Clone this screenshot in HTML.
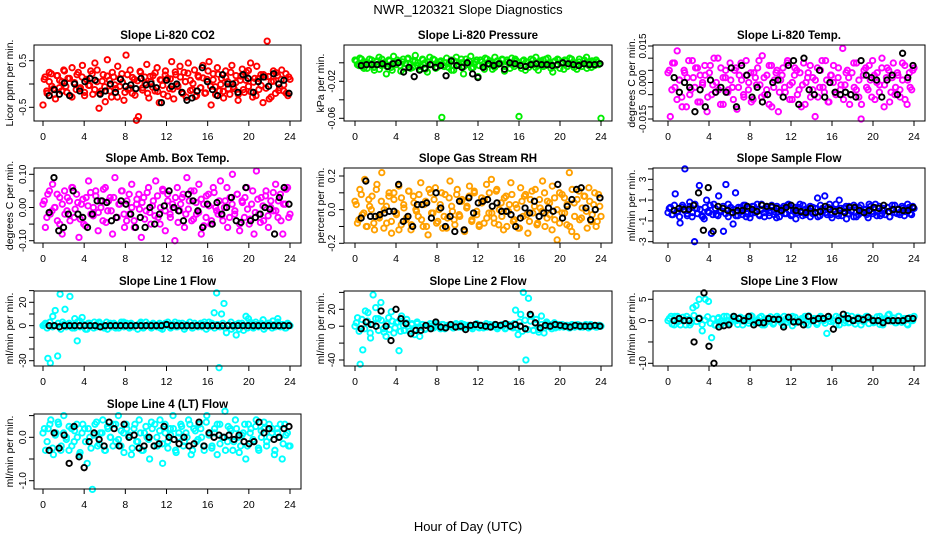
<!DOCTYPE html>
<html><head><meta charset="utf-8"><style>
html,body{margin:0;padding:0;background:#fff;}
svg{display:block;font-family:"Liberation Sans",sans-serif;}
</style></head><body>
<svg id="chart" width="936" height="540" viewBox="0 0 936 540" xmlns="http://www.w3.org/2000/svg">
<text x="468" y="14" text-anchor="middle" font-size="13">NWR_120321  Slope Diagnostics</text>
<text x="468" y="531" text-anchor="middle" font-size="13">Hour of Day (UTC)</text>
</svg>
<script>
// ---- data (values in panel units) ----
const xTicks = [0,4,8,12,16,20,24];
const co2Color = [-45,15,-20,5,22,-10,-32,18,8,-15,30,-5,12,-25,35,2,-12,25,-8,40,-18,10,-3,28,-22,45,5,-52,-15,20,-38,52,8,-28,15,-10,38,-5,22,-35,62,-12,30,-20,10,-78,-70,25,-8,15,42,-30,5,18,-15,35,-40,8,-22,28,12,-10,48,-32,20,-5,38,-18,25,-28,45,8,-12,30,-25,15,-8,40,-20,10,48,-45,22,-6,35,-15,12,-30,28,5,-22,40,-10,18,-35,8,32,-18,25,-5,45,-28,12,38,-12,20,-40,15,92,-32,5,28,-20,18,-8,30,-15,22,-25,10];
const co2Color2 = [10,-15,25,-5,-22,18,-8,5,28,-18,12,-28,3,20,-10,15,-25,8,-3,22,-12,30,-20,6,-6,17,-15,25,-2,-28,12,4,-18,20,-9,14,-24,7,27,-13,2,-20,16,-7,24,-16,9,-3,19,-26,11,-11,26,-4,15,-21,5,23,-14,1,-27,18,-8,13,-19,28,-5,9,-23,21,-1,-16,14,-10,25,-6,3,-22,17,-12,8,29,-17,4,-25,12,-3,20,-9,16,-28,6,24,-14,10,-2,-20,15];
const co2Black = [-25,-12,-22,2,-25,0,-15,5,12,8,-22,-15,0,-18,10,-5,-2,-10,12,-2,0,-8,-40,8,-5,0,-18,-35,-30,-15,35,5,-12,-25,20,0,0,-18,20,12,-18,5,15,-5,22,0,8,-20];
const presColor = [3,-2,5,-4,1,-6,4,-1,-8,2,6,-3,0,-12,3,-5,7,-2,1,-9,4,-1,5,-6,2,8,-3,-7,4,0,-10,6,-2,3,-5,1,-59,-4,5,-1,-8,2,6,-3,0,-12,4,-2,7,-5,1,-15,3,-4,5,-1,2,-7,6,-2,0,4,-9,3,-1,5,-4,2,-58,-6,3,1,-5,4,-2,6,-8,0,3,-3,5,-1,-10,2,4,-6,1,3,-4,5,-2,0,-7,4,-1,2,6,-3,-5,1,3,-2,-60];
const presColor2 = [2,-3,4,-6,0,-1,3,-5,1,-7,4,-2,-4,2,-8,0,3,-3,1,-6,4,-1,-5,2,0,-4,3,-7,1,-2,4,-6,-1,2,-3,0,-5,3,-8,1,-2,4,-4,0,2,-6,-1,3,-3,1,-7,4,-2,0,-5,2,-1,3,-4,1,-6,-2,4,0,-3,2,-8,1,-1,3,-5,0,2,-4,4,-2,-6,1,-3,3,0,-7,2,-1,4,-5,-2,1,-4,3,-6,0,2,-3,1,-1];
const presBlack = [-3,-2,-2,-2,-1,-4,-1,0,-10,-5,-15,-8,-6,-2,-5,-3,-14,2,-3,-5,0,-12,-16,-5,-1,-3,-1,-7,0,-1,-3,-4,-2,-1,-2,-2,-3,-2,0,-1,-2,-3,-1,-2,-2,-1];
const tempColor = [40,-140,80,-20,130,10,-60,50,-100,90,-30,20,60,-80,30,-10,70,-120,40,-50,100,0,-30,60,-90,20,-40,80,-20,50,-110,30,10,-60,90,-30,40,-70,20,60,-10,110,-50,30,-90,70,-20,40,-120,10,60,-40,90,-10,-70,30,50,-30,-100,80,0,40,-60,20,-140,60,-20,90,-40,10,-80,30,70,-50,20,-30,140,-10,50,-90,40,-20,80,-60,-150,30,60,-30,10,90,-70,40,-10,60,-100,20,50,-40,80,-20,30,-60,10,70,-90,40,-30,60];
const tempColor2 = [50,-30,80,-70,10,-100,40,20,-50,90,-20,60,-80,0,30,-60,70,-10,-40,100,-90,20,50,-30,10,-70,60,-20,80,-50,30,0,-80,40,-10,90,-60,20,-30,70,-100,10,50,-40,30,-20,80,-70,0,60,-50,40,-10,-90,20,70,-30,10,-60,50,-20,90,-80,30,0,-40,60,-10,-70,40,20,-50,80,-30,10,-90,50,-20,70,-60,30,0,-40,100,-10,60,-80,20,-50,40,-30,80,-70,10,-20,50];
const tempBlack = [20,-40,0,-20,-120,-30,-100,10,-40,-20,-40,60,-100,70,30,-60,-20,-80,-50,0,10,-60,70,90,-90,100,-30,-50,50,-60,0,-40,-50,-40,-50,-60,90,30,20,10,-60,10,30,-50,120,20,70];
const ambColor = [10,-60,40,-20,70,0,-40,30,-80,50,-10,20,60,-30,40,-90,10,-50,30,80,-20,0,50,-70,20,-40,60,-10,30,-80,90,-30,10,50,-60,20,-20,70,-40,10,40,-90,30,-10,60,-50,20,80,-30,0,50,-70,40,-20,10,-100,60,-10,30,-60,90,20,-40,50,-20,70,-80,10,-30,40,-50,60,0,-20,80,-40,20,-60,30,100,-10,40,-70,20,-30,60,-50,10,-80,110,-20,30,-40,50,-60,20,-10,70,-30,40,-80,10,60,-20];
const ambColor2 = [20,-30,50,-10,0,40,-50,10,-20,30,-40,60,-5,15,-35,25,-55,5,45,-25,35,-15,0,55,-45,20,-10,30,-30,10,50,-20,-40,40,0,-60,25,-5,15,-35,45,-15,5,-25,35,-50,55,-10,20,-30,0,30,-45,10,40,-20,-5,50,-35,15,-15,25,-55,35,5,-40,45,-10,20,-25,0,60,-30,10,-20,40,-50,15,30,-5,-35,50,-15,25,-45,5,35,-25,0,45,-10,20,-40,10,55,-30];
const ambBlack = [-15,90,-70,-60,-20,50,-20,-30,-60,-20,20,20,15,-40,-30,20,10,-20,-60,-30,-60,0,-50,-20,5,50,0,-10,-40,40,20,-10,-60,10,-50,15,-20,0,30,-40,-45,60,-40,-30,-20,0,-5,-80,30,60,10];
const rhColor = [5,-8,12,-3,18,-10,2,8,-12,15,-5,22,0,-8,10,-14,6,-2,14,-9,3,-6,11,-12,8,0,-4,16,-10,5,-15,10,-2,13,-7,3,-11,9,-5,17,-1,-9,12,-4,6,-13,2,14,-6,10,-3,-10,7,-8,15,-2,18,-5,11,-9,4,-12,8,-1,16,-7,3,-11,13,-4,9,-14,6,-2,12,-8,1,17,-10,5,-3,14,-6,-18,10,-2,7,-9,22,-13,4,-16,11,-5,8,-1,13,-7,3,-10,9,-4];
const rhColor2 = [3,-6,9,-2,-10,6,0,-8,12,-4,5,-11,2,8,-7,10,-3,-12,7,1,-5,11,-9,4,-1,9,-6,3,-10,12,-2,6,-8,0,10,-4,-11,7,2,-6,9,-3,5,-12,1,8,-7,11,-1,-9,4,6,-5,10,-2,-8,12,0,-4,7,-10,3,9,-6,1,-11,5,8,-3,-7,11,2,-9,6,-1,10,-5,4,-12,7,0,-8,9,-2,3,-10,12,-4,6,-6,1,8,-11,5,-3,10,-7,2];
const rhBlack = [-5,17,-4,-4,-3,-2,-1,-1,15,-7,-4,-10,3,3,4,-5,10,1,-10,-4,-13,5,-12,7,-2,4,5,6,2,4,-1,-1,-3,-10,-5,1,-2,5,-4,-2,1,-1,15,-5,2,6,12,13,1,-6,0,7];
const sampColor = [-2,3,-4,16,-1,-12,5,40,-3,8,-6,-30,2,24,-5,-8,10,-2,-22,6,-4,14,-1,-20,25,-6,3,-13,17,-5,2,-4,5,-3,-7,4,-2,6,-5,1,-6,3,-2,5,-4,-7,2,-1,4,-3,6,-5,0,-8,3,-2,5,-4,1,-6,3,-2,12,-5,2,14,-4,6,-7,1,-3,10,-5,2,-8,4,-1,-6,3,-4,5,-2,1,-7,4,-3,6,-1,-5,2,-4,3,-6,1,5,-3,-2,4,-5,0,3,-4,2];
const sampColor2 = [2,-4,5,-1,-6,3,0,-5,4,-2,6,-3,1,-6,3,-1,5,-4,2,-5,0,4,-3,6,-2,1,-5,3,-1,5,-6,2,-3,4,0,-4,6,-2,1,-5,3,-1,4,-6,2,-3,5,0,-4,3,-2,6,-5,1,-1,4,-3,2,-6,5,0,-2,3,-4,1,6,-5,2,-1,4,-3,0,5,-6,3,-2,1,-4,6,-1,2,-5,4,-3,0,3,-6,5,-2,1,-4,2,-1,6,-3,4];
const sampBlack = [0,2,1,1,5,17,-19,22,-20,4,2,0,-2,0,0,4,1,-1,5,4,4,2,0,3,5,0,-1,-2,2,-2,-1,4,1,-1,0,-2,3,3,0,-2,0,3,2,5,-1,1,1,0,0,3];
const l1Color = [0,2,-28,-32,8,13,-26,27,3,14,1,25,-2,6,-13,4,7,1,-3,2,0,3,-1,2,0,-2,3,1,-1,2,0,-2,1,3,0,-1,2,-1,0,1,3,-2,0,1,-1,2,0,1,-2,0,2,1,-1,0,3,-1,0,2,-1,1,0,-2,2,0,1,-1,3,0,-1,2,11,28,-36,10,19,-6,1,-3,-1,-8,2,0,-4,8,6,1,-2,3,0,1,5,-1,2,0,4,-1,6,0,1,-2,2,0];
const l1Color2 = [1,-2,3,-1,0,2,-3,1,-1,2,0,-2,3,-1,1,-3,2,0,-2,1,3,-1,0,-3,2,1,-2,0,3,-1,2,-2,1,0,-3,2,-1,3,0,-2,1,-1,2,-3,0,3,-2,1,-1,2,0,-3,1,3,-2,0,-1,2,1,-3,3,0,-2,1,-1,2,-2,0,3,-1,1,-3,2,0,-2,3,-1,1,-1,2,-3,0,2,-2,1,3,-1,0,-2,1];
const l1Black = [0,0,-1,0,0,0,0,0,0,0,-1,0,0,0,0,0,0,0,0,0,0,0,0,1,0,0,0,0,0,0,0,0,0,0,0,0,0,0,0,0,0,0,0,0,0,0,0,0];
const l2Color = [0,10,-45,-28,18,16,-14,37,22,9,28,-3,-12,10,17,-8,4,-29,12,-5,8,-6,3,-10,5,-12,2,-4,1,3,-2,1,0,-3,2,-1,1,0,-2,3,0,-1,2,0,1,-1,0,3,-2,1,0,-1,2,0,1,-1,0,2,-3,1,0,-2,19,-10,14,40,-40,33,12,-5,8,-7,12,-8,5,2,-3,4,0,-1,2,0,1,-2,1,0,2,-1,0,1,0,2,0,-1,1,0];
const l2Color2 = [4,-6,8,-3,6,-8,2,9,-5,7,-7,3,-4,6,-2,5,-6,1,4,-3,2,-4,3,-1,2,-3,1,0,-2,3,-1,2,-3,1,0,-2,2,-1,3,-2,1,0,-3,2,-1,1,-2,3,0,-1,2,-3,1,0,-2,2,-1,3,-2,5,-6,7,-4,6,-5,3,-4,2,-2,3,-1,1,-2,2,0,-1,1,-2,2,-1,0,1,-1,2,-2,1,0,-1,1];
const l2Black = [-3,5,2,0,18,0,-17,20,9,3,-9,-5,-5,1,-3,5,-1,-2,2,-1,0,-4,1,2,1,0,-1,2,1,3,0,2,0,-3,14,4,-2,1,0,2,1,0,-1,1,0,0,0,1,0];
const l3Color = [0,1,-1,1,-1,0,1,-1,3,3.5,5,-2.4,5,4.5,-4,-1,0.5,-1,1,0,-0.5,1,0,0.5,-1,0.5,0,1,-0.5,0,1,-1,0.5,0,-0.5,1,0,-1,0.5,0,1,-0.5,0,0.5,1,-1,0,0.5,-0.5,1,0,-3,0.5,0,1,-1,0.5,0,-0.5,1,0,0.5,-1,0,1,0.5,-0.5,0,1,-1,0.5,1.5,0,-0.5,1,0,0.5,-1,0,1];
const l3Color2 = [0.5,-0.8,1,-0.3,0,0.8,-1,0.3,-0.5,1.2,-0.2,0.6,-0.9,0.1,0.9,-0.6,0.4,-1.1,0.7,0,-0.4,1,-0.7,0.2,0.5,-0.9,0.8,-0.1,0.3,-0.6,1.1,-0.3,0,0.7,-1,0.4,-0.2,0.9,-0.8,0.1,0.6,-0.5,1,-0.4,0.2,-1.2,0.8,0,-0.3,0.5,-0.7,1.1,-0.1,0.4,-0.9,0.6,0.2,-0.6,0.9,-0.2,0,-1,0.7,0.3,-0.5,1.2,-0.4,0.1,-0.8,0.8,0.5,-0.2,1,-0.7,0.2,-0.3,0.9,-0.9,0.4,0,1.3,-0.1,0.6,-0.5,1,-0.4,0.3,-0.8,0.7,0];
const l3Black = [0,0.5,0,0,-5,0.5,6.5,-6,-10,-1.5,-1.2,-1,1,0.5,0,1,-1,-0.5,-0.5,0.5,0.3,0.3,-1.5,0.8,-0.3,-0.3,-1,1,0,0.5,0.5,1,-2,0,1.5,0.5,0,0.5,0.2,0.8,0,0,-0.5,0,0,0,0,0.5,0.5];
const l4Color = [0.1,-0.3,0.2,0.4,-0.4,0.1,0.3,-0.2,0.5,0,-0.3,0.2,-0.1,0.3,-0.4,0.1,0.2,-0.6,0,-1.2,0.3,-0.2,0.1,0.4,-0.3,0.2,0,0.3,-0.1,0.5,-0.2,0.1,0.3,0,-0.4,0.2,-0.1,0.4,-0.3,0.1,0,-0.5,0.2,0.3,-0.2,0.4,-0.6,0.1,-0.1,0.2,0.5,-0.3,0,0.3,-0.2,0.1,0.4,-0.4,0.2,-0.1,0.3,0,-0.3,0.5,0.1,-0.2,0.2,-0.4,0.3,0,0.6,-0.1,0.2,-0.3,0.4,0,-0.2,0.1,-0.5,0.3,0.2,-0.1,0.4,-0.3,0,0.2,-0.2,0.3,0.1,-0.4,0.2,0,-0.5,0.3,0.1,-0.2];
const l4Color2 = [0.2,-0.1,0.3,-0.25,0.05,0.35,-0.3,0.1,-0.05,0.25,-0.2,0.15,0,-0.35,0.3,-0.1,0.2,-0.25,0.05,0.35,-0.15,0.1,-0.3,0.25,0,-0.2,0.3,-0.05,0.15,-0.35,0.2,0.05,-0.25,0.3,-0.1,0.1,-0.3,0.25,-0.05,0.35,-0.2,0,0.15,-0.15,0.3,-0.25,0.05,0.2,-0.35,0.1,0.25,-0.1,0,0.3,-0.3,0.15,-0.05,0.2,-0.2,0.35,0.05,-0.25,0.1,0.3,-0.15,0,-0.3,0.25,0.15,-0.1,0.2,-0.35,0.05,0.3,-0.2,0.1,-0.05,0.25,-0.25,0.15,0.35,-0.1,0,0.2,-0.3,0.1,0.3,-0.15,0.05,-0.2];
const l4Black = [-0.3,0.1,-0.25,0.05,-0.6,0.25,-0.45,-0.7,-0.1,0.1,-0.05,-0.2,0.35,0.2,-0.2,0.3,0,0.05,-0.25,-0.2,0,-0.2,-0.15,0.25,0,-0.05,-0.15,0,-0.2,-0.15,0.35,-0.2,0.1,0,0.05,0,0.05,-0.05,0.05,-0.1,-0.15,-0.1,0.35,0.1,0.2,-0.05,0,0.2,0.25];

// ---- layout ----
const cols=[{b0:34,b1:301,p0:43,p24:290,ylab:9,tl:22},{b0:344,b1:612,p0:355,p24:601,ylab:320,tl:331},{b0:653,b1:925,p0:668,p24:914,ylab:631,tl:642}];
const rows=[{t:45,b:121},{t:168,b:243},{t:291,b:366},{t:414,b:489}];
const panels=[
 {name:'co2',title:'Slope Li-820 CO2',yl:'Licor ppm per min.',r:0,c:0,col:'#ff0000',unit:0.01,dc:co2Color,dc2:co2Color2,db:co2Black,v1:0.5,p1:60.7,v2:-0.5,p2:107.3,ticks:[-0.5,0,0.5],labs:[[-0.5,'-0.5'],[0.5,'0.5']],bx:[0.6,23.9]},
 {name:'pressure',title:'Slope Li-820 Pressure',yl:'kPa per min.',r:0,c:1,col:'#00ee00',unit:0.001,dc:presColor,dc2:presColor2,db:presBlack,v1:-0.02,p1:81.3,v2:-0.06,p2:118.3,ticks:[0,-0.02,-0.04,-0.06],labs:[[-0.02,'-0.02'],[-0.06,'-0.06']],bx:[0.6,23.9]},
 {name:'temp',title:'Slope Li-820 Temp.',yl:'degrees C per min.',r:0,c:2,col:'#ff00ff',unit:0.0001,dc:tempColor,dc2:tempColor2,db:tempBlack,v1:0.015,p1:46,v2:-0.015,p2:119,ticks:[0.015,0.01,0.005,0,-0.005,-0.01,-0.015],labs:[[0.015,'0.015'],[0,'0.000'],[-0.015,'-0.015']],bx:[0.6,23.9]},
 {name:'amb-box-temp',title:'Slope Amb. Box Temp.',yl:'degrees C per min.',r:1,c:0,col:'#ff00ff',unit:0.001,dc:ambColor,dc2:ambColor2,db:ambBlack,v1:0.1,p1:174.3,v2:-0.1,p2:240.7,ticks:[0.1,0.05,0,-0.05,-0.1],labs:[[0.1,'0.10'],[0,'0.00'],[-0.1,'-0.10']],bx:[0.6,23.9]},
 {name:'gas-stream-rh',title:'Slope Gas Stream RH',yl:'percent per min.',r:1,c:1,col:'#ffa000',unit:0.01,dc:rhColor,dc2:rhColor2,db:rhBlack,v1:0.2,p1:176,v2:-0.2,p2:243.3,ticks:[0.2,0.1,0,-0.1,-0.2],labs:[[0.2,'0.2'],[0,'0.0'],[-0.2,'-0.2']],bx:[0.6,23.9]},
 {name:'sample-flow',title:'Slope Sample Flow',yl:'ml/min per min.',r:1,c:2,col:'#0000ff',unit:0.1,dc:sampColor,dc2:sampColor2,db:sampBlack,v1:3,p1:179.3,v2:-3,p2:241.7,ticks:[4,3,2,1,0,-1,-2,-3],labs:[[3,'3'],[1,'1'],[-1,'-1'],[-3,'-3']],bx:[0.6,23.9]},
 {name:'line1-flow',title:'Slope Line 1 Flow',yl:'ml/min per min.',r:2,c:0,col:'#00ffff',unit:1,dc:l1Color,dc2:l1Color2,db:l1Black,v1:20,p1:302.3,v2:-30,p2:360.7,ticks:[30,20,10,0,-10,-20,-30],labs:[[20,'20'],[0,'0'],[-30,'-30']],bx:[0.6,23.9]},
 {name:'line2-flow',title:'Slope Line 2 Flow',yl:'ml/min per min.',r:2,c:1,col:'#00ffff',unit:1,dc:l2Color,dc2:l2Color2,db:l2Black,v1:20,p1:309.3,v2:-40,p2:360,ticks:[40,20,0,-20,-40],labs:[[20,'20'],[0,'0'],[-40,'-40']],bx:[0.6,23.9]},
 {name:'line3-flow',title:'Slope Line 3 Flow',yl:'ml/min per min.',r:2,c:2,col:'#00ffff',unit:1,dc:l3Color,dc2:l3Color2,db:l3Black,v1:5,p1:299.3,v2:-10,p2:363.3,ticks:[5,0,-5,-10],labs:[[5,'5'],[0,'0'],[-10,'-10']],bx:[0.6,23.9]},
 {name:'line4-flow',title:'Slope Line 4 (LT) Flow',yl:'ml/min per min.',r:3,c:0,col:'#00ffff',unit:1,dc:l4Color,dc2:l4Color2,db:l4Black,v1:0,p1:437.3,v2:-1,p2:480.7,ticks:[0.5,0,-0.5,-1],labs:[[0,'0.0'],[-1,'-1.0']],bx:[0.6,23.9]}
];
const NS='http://www.w3.org/2000/svg';
const svg=document.getElementById('chart');
function mk(tag,attrs,parent){const e=document.createElementNS(NS,tag);for(const k in attrs)e.setAttribute(k,attrs[k]);(parent||svg).appendChild(e);return e;}
panels.forEach(p=>{
 const C=cols[p.c],R=rows[p.r];
 const g=mk('g',{});
 
 
 const xs=h=>C.p0+(C.p24-C.p0)*h/24;
 const ys=v=>p.p1+(v-p.v1)*(p.p2-p.p1)/(p.v2-p.v1);
 const t=mk('text',{x:(C.b0+C.b1)/2,y:R.t-6,'text-anchor':'middle','font-size':'11.5','font-weight':'bold'},g);
 t.textContent=p.title;
 
 
 const pg=mk('g',{fill:'none','stroke-width':'1.9'},g);
 
 
 const n=p.dc.length;
 p.dc.forEach((v,i)=>{
  const c=mk('circle',{cx:xs(i*24/(n-1)),cy:ys(v*p.unit),r:2.7,stroke:p.col},pg);
  
  
 });
 const n2=p.dc2.length;
 p.dc2.forEach((v,i)=>{
  const c=mk('circle',{cx:xs((i+0.5)*24/n2),cy:ys(v*p.unit),r:2.7,stroke:p.col},pg);
  
  
 });
 const m=p.db.length;
 p.db.forEach((v,i)=>{
  const c=mk('circle',{cx:xs(p.bx[0]+i*(p.bx[1]-p.bx[0])/(m-1)),cy:ys(v*p.unit),r:2.7,stroke:'#000'},pg);
  
  
 });
 const box=mk('rect',{x:C.b0,y:R.t,width:C.b1-C.b0,height:R.b-R.t,fill:'none',stroke:'#000','stroke-width':'1'},g);
 
 
 const xa=mk('g',{},g);
 
 
 mk('line',{x1:xs(0),x2:xs(24),y1:R.b,y2:R.b,stroke:'#000'},xa);
 xTicks.forEach(h=>{
  mk('line',{x1:xs(h),x2:xs(h),y1:R.b,y2:R.b+5,stroke:'#000'},xa);
  const tx=mk('text',{x:xs(h),y:R.b+19,'text-anchor':'middle','font-size':'10.5'},xa);
  tx.textContent=h;
  
  
 });
 const ya=mk('g',{},g);
 
 
 const tv=p.ticks.map(ys);
 mk('line',{x1:C.b0,x2:C.b0,y1:Math.min(...tv),y2:Math.max(...tv),stroke:'#000'},ya);
 tv.forEach(y=>mk('line',{x1:C.b0-5,x2:C.b0,y1:y,y2:y,stroke:'#000'},ya));
 p.labs.forEach(([v,s])=>{
  const y=ys(v);
  const tx=mk('text',{x:C.tl+4,y:y,'text-anchor':'middle','font-size':'10',transform:`rotate(-90 ${C.tl+4} ${y})`},ya);
  tx.textContent=s;
  
  
 });
 const my=(R.t+R.b)/2;
 const yt=mk('text',{x:C.ylab+4,y:my,'text-anchor':'middle','font-size':'10.5',transform:`rotate(-90 ${C.ylab+4} ${my})`},g);
 yt.textContent=p.yl;
 
 
});
</script>
</body></html>
